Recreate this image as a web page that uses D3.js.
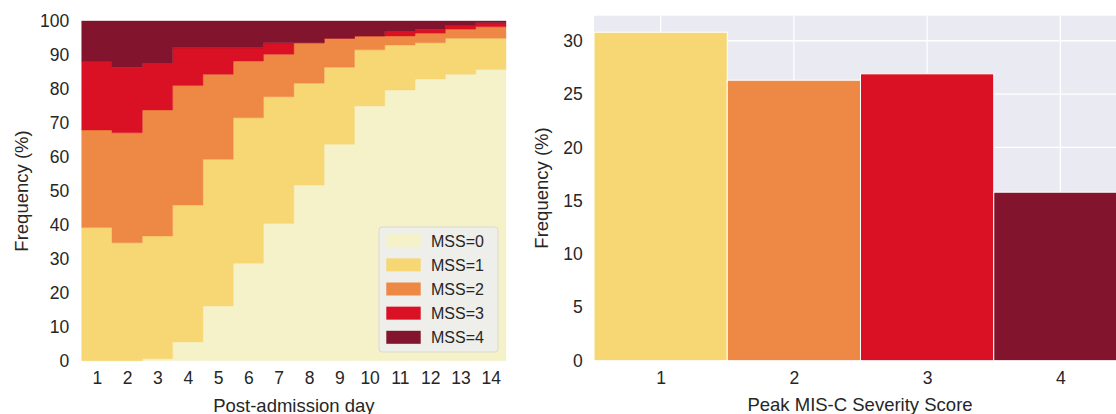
<!DOCTYPE html>
<html lang="en">
<head>
  <meta charset="UTF-8">
  <title>mss-frequency</title>
  <script src="https://cdn.jsdelivr.net/npm/d3@7"></script>
  <style>
    body { margin: 0; background: #fff; }
    text { font-family: "Liberation Sans", Arial, sans-serif; fill: #262626; }
  </style>
</head>
<body>
<div id="chart"></div>
<script>
    // daily share of patients at each MIS-C severity score (%)
    const days = [1, 2, 3, 4, 5, 6, 7, 8, 9, 10, 11, 12, 13, 14];
    const mss0 = [0, 0, 0.6, 5.5, 16.1, 28.7, 40.4, 51.7, 63.7, 75.0, 79.7, 82.9, 84.3, 85.7];
    const mss1 = [39.2, 34.7, 36.1, 40.3, 43.2, 42.8, 37.3, 30.0, 22.7, 16.5, 13.2, 10.7, 10.6, 9.2];
    const mss2 = [28.7, 32.4, 37.1, 35.2, 25.0, 16.7, 12.5, 11.9, 8.5, 4.1, 2.7, 2.8, 2.7, 3.4];
    const mss3 = [20.3, 19.3, 13.7, 11.1, 7.8, 3.9, 3.4, 0, 0, 0, 1.3, 1.2, 1.2, 1.2];
    const mss4 = [11.8, 13.6, 12.5, 7.9, 7.9, 7.9, 6.4, 6.4, 5.1, 4.4, 3.1, 2.4, 1.2, 0.5];
    const levels = ["MSS=0", "MSS=1", "MSS=2", "MSS=3", "MSS=4"];
    const colors = ["#f5f2c9", "#f7d674", "#ee8845", "#da1124", "#82142d"];

    // peak severity score distribution (%)
    const peakScores = [1, 2, 3, 4];
    const peakFreq = [30.8, 26.3, 26.9, 15.8];

    const leftYTicks = [0, 10, 20, 30, 40, 50, 60, 70, 80, 90, 100];
    const rightYTicks = [0, 5, 10, 15, 20, 25, 30];

    const width = 1116, height = 414;
    const tickFont = "17.5px", titleFont = "18.5px";
    const svg = d3.select("#chart").append("svg")
        .attr("width", width).attr("height", height);

    // ---- left: stacked step areas ----
    const x1 = d3.scaleLinear().domain([0.5, 14.5]).range([81.7, 506]);
    const y1 = d3.scaleLinear().domain([0, 100]).range([360.7, 21]);

    const series = [mss0, mss1, mss2, mss3, mss4];
    let rows = days.map((d, i) => {
        let r = {day: d - 0.5};
        levels.forEach((l, k) => r[l] = series[k][i]);
        return r;
    });
    // closing point so the last day gets its full width
    rows.push(Object.assign({}, rows[rows.length - 1], {day: 14.5}));

    const stacked = d3.stack().keys(levels)(rows);
    const area = d3.area().curve(d3.curveStepAfter)
        .x(d => x1(d.data.day)).y0(d => y1(d[0])).y1(d => y1(d[1]));

    const left = svg.append("g");
    left.selectAll("path.layer").data(stacked).enter().append("path")
        .attr("class", "layer")
        .attr("d", area)
        .attr("fill", (d, i) => colors[i])
        .attr("stroke", (d, i) => colors[i])
        .attr("stroke-width", 0.4);

    left.append("g").attr("transform", "translate(81.7,0)")
        .call(d3.axisLeft(y1).tickValues(leftYTicks).tickSize(0).tickPadding(12.5))
        .call(g => g.select(".domain").remove())
        .selectAll("text").style("font-size", tickFont);
    left.append("g").attr("transform", "translate(0,360.7)")
        .call(d3.axisBottom(x1).tickValues(days).tickFormat(d3.format("d")).tickSize(0).tickPadding(11))
        .call(g => g.select(".domain").remove())
        .selectAll("text").style("font-size", tickFont);

    left.append("text").attr("x", 293.9).attr("y", 411.5)
        .attr("text-anchor", "middle").style("font-size", titleFont)
        .text("Post-admission day");
    left.append("text")
        .attr("transform", "translate(28,191) rotate(-90)")
        .attr("text-anchor", "middle").style("font-size", titleFont)
        .text("Frequency (%)");

    // legend
    const legend = left.append("g");
    legend.append("rect").attr("x", 379).attr("y", 227).attr("width", 119).attr("height", 125)
        .attr("rx", 3).attr("fill", "#eeeeea").attr("stroke", "#d4d4d0").attr("stroke-width", 0.8);
    levels.forEach((l, i) => {
        let cy = 240.7 + i * 24.15;
        legend.append("rect").attr("x", 386.3).attr("y", cy - 6.5).attr("width", 34.4).attr("height", 13)
            .attr("fill", colors[i]);
        legend.append("text").attr("x", 431).attr("y", cy + 5.8)
            .style("font-size", "16px").text(l);
    });

    // ---- right: peak score bars ----
    const x2 = d3.scaleLinear().domain([0.5, 4.5]).range([594, 1127]);
    const y2 = d3.scaleLinear().domain([0, 32.35]).range([360.7, 15.7]);

    const right = svg.append("g");
    right.append("rect").attr("x", x2(0.5)).attr("y", y2(32.35))
        .attr("width", x2(4.5) - x2(0.5)).attr("height", y2(0) - y2(32.35))
        .attr("fill", "#eaeaf2");
    right.selectAll("line.hgrid").data(rightYTicks).enter().append("line")
        .attr("class", "hgrid")
        .attr("x1", x2(0.5)).attr("x2", x2(4.5))
        .attr("y1", d => y2(d)).attr("y2", d => y2(d))
        .attr("stroke", "#fff").attr("stroke-width", 1.3);
    right.selectAll("line.vgrid").data(peakScores).enter().append("line")
        .attr("class", "vgrid")
        .attr("x1", d => x2(d)).attr("x2", d => x2(d))
        .attr("y1", y2(0)).attr("y2", y2(32.35))
        .attr("stroke", "#fff").attr("stroke-width", 1.3);

    right.selectAll("rect.bar").data(peakScores).enter().append("rect")
        .attr("class", "bar")
        .attr("x", d => x2(d - 0.5)).attr("width", x2(1.5) - x2(0.5))
        .attr("y", (d, i) => y2(peakFreq[i])).attr("height", (d, i) => y2(0) - y2(peakFreq[i]))
        .attr("fill", (d, i) => colors[i + 1])
        .attr("stroke", "#fff").attr("stroke-width", 1);

    right.append("g").attr("transform", "translate(594,0)")
        .call(d3.axisLeft(y2).tickValues(rightYTicks).tickSize(0).tickPadding(11.3))
        .call(g => g.select(".domain").remove())
        .selectAll("text").style("font-size", tickFont);
    right.append("g").attr("transform", "translate(0,360.7)")
        .call(d3.axisBottom(x2).tickValues(peakScores).tickFormat(d3.format("d")).tickSize(0).tickPadding(11))
        .call(g => g.select(".domain").remove())
        .selectAll("text").style("font-size", tickFont);

    right.append("text").attr("x", 860).attr("y", 410.5)
        .attr("text-anchor", "middle").style("font-size", titleFont)
        .text("Peak MIS-C Severity Score");
    right.append("text")
        .attr("transform", "translate(548,188) rotate(-90)")
        .attr("text-anchor", "middle").style("font-size", titleFont)
        .text("Frequency (%)");
</script>
</body>
</html>
